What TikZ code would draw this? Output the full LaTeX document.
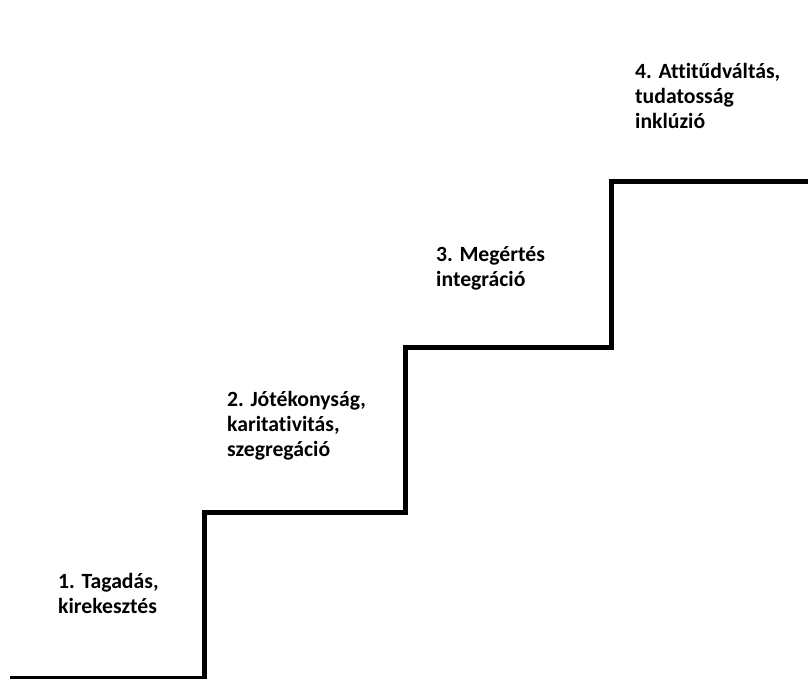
\documentclass[tikz,border=0pt]{standalone}
\usepackage{fontspec}
\setmainfont{Carlito}[Ligatures=NoCommon]
\begin{document}
\begin{tikzpicture}[x=1pt,y=-1pt,
  stair/.style={line width=5pt, line join=miter, line cap=butt},
  stagelabel/.style={anchor=base west, inner sep=0pt, align=left,
    font=\fontsize{21.7}{25}\selectfont\bfseries}]
  \useasboundingbox[clip] (0,0) rectangle (808,678);
  % stair outline
  \coordinate (s0) at (10,678.5);
  \coordinate (s1) at (204,678.5);
  \coordinate (s2) at (204,512.5);
  \coordinate (s3) at (405,512.5);
  \coordinate (s4) at (405,347.5);
  \coordinate (s5) at (611.5,347.5);
  \coordinate (s6) at (611.5,181);
  \coordinate (s7) at (808,181);
  \draw[stair] (s0) -- (s1) -- (s2) -- (s3) -- (s4) -- (s5) -- (s6) -- (s7);
  % stage labels (anchored at the baseline of their last line)
  \node[stagelabel] (l1) at (58,613.3) {1. Tagadás,\\kirekesztés};
  \node[stagelabel] (l2) at (227,456) {2. Jótékonyság,\\karitativitás,\\szegregáció};
  \node[stagelabel] (l3) at (436,286.7) {3. Megértés\\integráció};
  \node[stagelabel] (l4) at (635,128.3) {4. Attitűdváltás,\\tudatosság\\inklúzió};
\end{tikzpicture}
\end{document}
